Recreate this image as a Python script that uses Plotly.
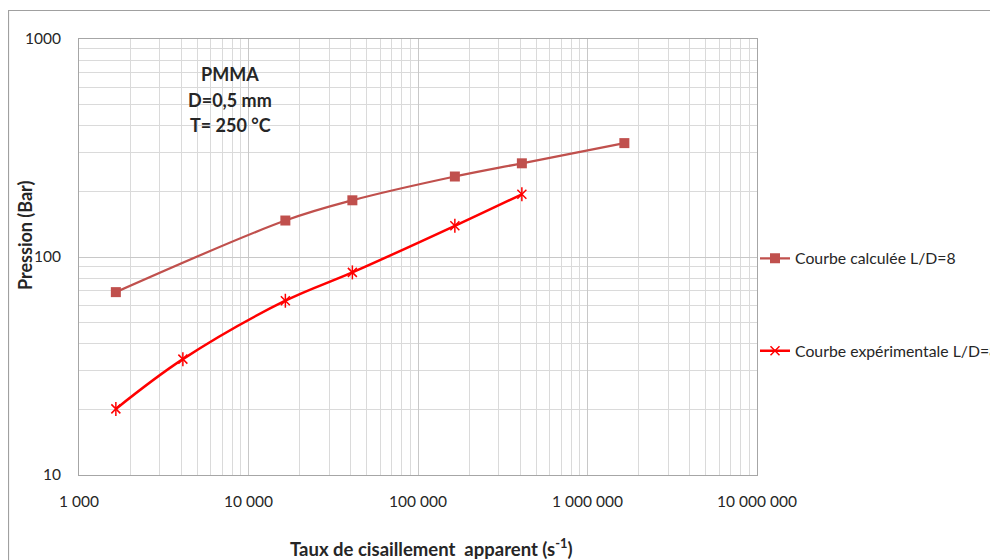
import plotly.graph_objects as go

# Data
shear_calc = [1650, 16500, 41000, 165000, 410000, 1650000]
p_calc = [69, 147, 182, 234, 269, 333]
shear_exp = [1650, 4100, 16500, 41000, 165000, 410000]
p_exp = [20.1, 34, 63, 85, 139, 194]

x_tickvals = [1e3, 1e4, 1e5, 1e6, 1e7]
x_ticktext = ["1 000", "10 000", "100 000", "1 000 000", "10 000 000"]
y_tickvals = [10, 100, 1000]
y_ticktext = ["10", "100", "1000"]

name_calc = "Courbe calculée L/D=8"
name_exp = "Courbe expérimentale L/D=8"
note_lines = ["PMMA", "D=0,5 mm", "T= 250 °C"]

FONT = "Lato"
TXT = "#262626"
C_CALC = "#C0504D"
C_EXP = "#FF0000"

fig = go.Figure()
fig.add_trace(go.Scatter(
    x=shear_calc, y=p_calc, name=name_calc, mode="lines+markers",
    line=dict(color=C_CALC, width=2.25, shape="spline"),
    marker=dict(symbol="square", size=10, color=C_CALC),
    legendgroup="a",
))
fig.add_trace(go.Scatter(
    x=shear_exp, y=p_exp, name=name_exp, mode="lines+markers",
    line=dict(color=C_EXP, width=2.5, shape="spline"),
    marker=dict(symbol="x-thin-open", size=9, color=C_EXP,
                line=dict(color=C_EXP, width=1.5)),
    legendgroup="b",
))
fig.add_trace(go.Scatter(
    x=shear_exp, y=p_exp, mode="markers", showlegend=False, hoverinfo="skip",
    marker=dict(symbol="line-ns-open", size=10, color=C_EXP,
                line=dict(color=C_EXP, width=1.5)),
    legendgroup="b",
))

# page body has an 8px margin: figure pixel = screen pixel - 8
OFF = 8
W, H = 998 - OFF, 560 - OFF
L, R_edge, T, B_edge = 79 - OFF, 757 - OFF, 39 - OFF, 475 - OFF
pw, ph = R_edge - L, B_edge - T

def px_x(sx):
    return (sx - OFF - L) / pw

def px_y(sy):
    return (B_edge - (sy - OFF)) / ph

grid_major = "#c8c8c8"
grid_minor = "#dadada"

fig.update_xaxes(
    type="log", range=[3, 7],
    tickvals=x_tickvals, ticktext=x_ticktext,
    showgrid=True, gridcolor=grid_major, gridwidth=1,
    minor=dict(dtick="D1", showgrid=True, gridcolor=grid_minor, gridwidth=1, ticks=""),
    showline=True, linecolor="#a6a6a6", linewidth=1, mirror=True,
    ticks="", ticklabelstandoff=12,
    tickfont=dict(family=FONT, size=15.5, color=TXT),
    zeroline=False,
)
fig.update_yaxes(
    type="log", range=[1, 3],
    tickvals=y_tickvals, ticktext=y_ticktext,
    showgrid=True, gridcolor=grid_major, gridwidth=1,
    minor=dict(dtick="D1", showgrid=True, gridcolor=grid_minor, gridwidth=1, ticks=""),
    showline=True, linecolor="#a6a6a6", linewidth=1, mirror=True,
    ticks="", ticklabelstandoff=14,
    tickfont=dict(family=FONT, size=15.5, color=TXT),
    zeroline=False,
)

annotations = []
for i, t in enumerate(note_lines):
    annotations.append(dict(
        text="<b>%s</b>" % t, x=px_x(230), y=px_y(74 + 25.5 * i),
        xref="paper", yref="paper", showarrow=False,
        xanchor="center", yanchor="middle",
        font=dict(family=FONT, size=18, color=TXT),
    ))
annotations.append(dict(
    text="<b>Pression (Bar)</b>", x=px_x(25), y=px_y(236),
    xref="paper", yref="paper", showarrow=False, textangle=-90,
    xanchor="center", yanchor="middle",
    font=dict(family=FONT, size=18, color=TXT),
))
annotations.append(dict(
    text="<b>Taux de cisaillement  apparent (s<sup>-1</sup>)</b>",
    x=px_x(431), y=px_y(547),
    xref="paper", yref="paper", showarrow=False,
    xanchor="center", yanchor="middle",
    font=dict(family=FONT, size=18.5, color=TXT),
))

shapes = [dict(
    type="rect", xref="paper", yref="paper",
    x0=px_x(8.5), x1=px_x(1010), y0=px_y(620), y1=px_y(10.5),
    line=dict(color="#a0a0a0", width=1.2), fillcolor="rgba(0,0,0,0)", layer="below",
)]

fig.update_layout(
    width=W, height=H,
    margin=dict(l=L, r=W - R_edge, t=T, b=H - B_edge, autoexpand=False),
    paper_bgcolor="white", plot_bgcolor="white",
    font=dict(family=FONT, size=15, color=TXT),
    showlegend=True,
    legend=dict(
        x=px_x(755), y=px_y(241.5), xanchor="left", yanchor="top",
        xref="paper", yref="paper",
        tracegroupgap=69, bgcolor="rgba(0,0,0,0)",
        font=dict(family=FONT, size=15.8, color=TXT),
        itemwidth=30,
    ),
    annotations=annotations,
    shapes=shapes,
)

fig.write_html("out.html")
